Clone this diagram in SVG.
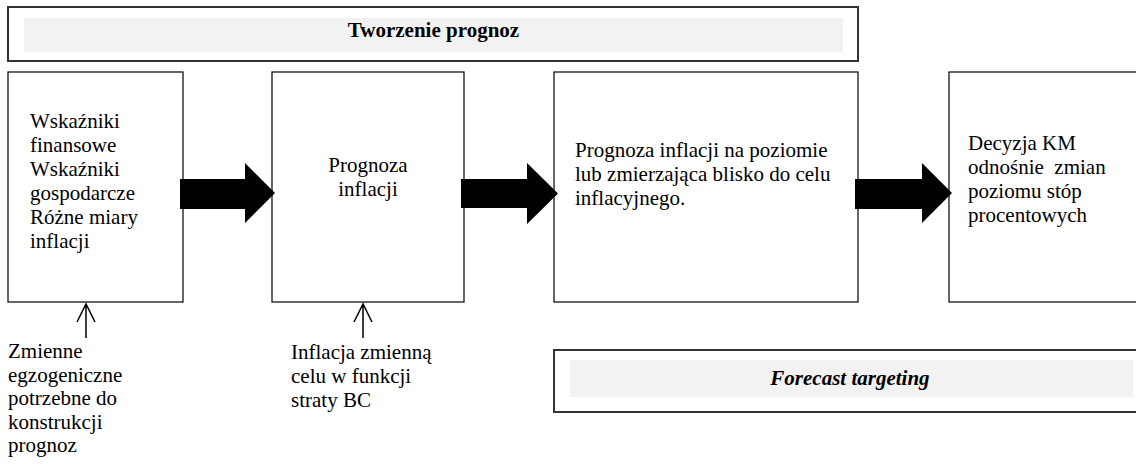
<svg xmlns="http://www.w3.org/2000/svg" width="1136" height="464" viewBox="0 0 1136 464">
  <style>
    .box { fill: #ffffff; stroke: #000000; stroke-width: 1.2; }
    .frame { fill: #ffffff; stroke: #333333; stroke-width: 2; }
    .band { fill: #f2f2f2; stroke: none; }
    .txt { font-size: 21px; fill: #000000; }
    .mid { text-anchor: middle; }
    .title { font-size: 21px; font-weight: bold; fill: #000000; text-anchor: middle; }
    .bigArrow { fill: #000000; stroke: none; }
    .thin { fill: none; stroke: #000000; stroke-width: 1.5; }
  </style>

  <g font-family="Liberation Serif, Tinos, Times New Roman, DejaVu Serif, serif">
  <!-- header banner -->
  <g id="header">
    <rect class="frame" x="8" y="7" width="850" height="54"/>
    <rect class="band" x="24" y="18" width="819" height="34"/>
    <text class="title" x="433.5" y="37">Tworzenie prognoz</text>
  </g>

  <!-- indicators -->
  <g id="inputs">
    <rect class="box" x="8" y="72" width="175" height="230"/>
    <text class="txt" x="30" y="128">Wskaźniki</text>
    <text class="txt" x="30" y="152">finansowe</text>
    <text class="txt" x="30" y="176">Wskaźniki</text>
    <text class="txt" x="30" y="200">gospodarcze</text>
    <text class="txt" x="30" y="224">Różne miary</text>
    <text class="txt" x="30" y="248">inflacji</text>
  </g>

  <!-- inflation forecast -->
  <g id="forecast">
    <rect class="box" x="272" y="72" width="192" height="230"/>
    <text class="txt mid" x="368" y="172">Prognoza</text>
    <text class="txt mid" x="368" y="196">inflacji</text>
  </g>

  <!-- forecast at target -->
  <g id="target">
    <rect class="box" x="554" y="72" width="304" height="230"/>
    <text class="txt" x="575" y="157">Prognoza inflacji na poziomie</text>
    <text class="txt" x="575" y="181">lub zmierzająca blisko do celu</text>
    <text class="txt" x="575" y="205">inflacyjnego.</text>
  </g>

  <!-- MPC decision -->
  <g id="decision">
    <rect class="box" x="949" y="72" width="220" height="230"/>
    <text class="txt" x="968" y="150">Decyzja KM</text>
    <text class="txt" x="968" y="174" xml:space="preserve">odnośnie  zmian</text>
    <text class="txt" x="968" y="198">poziomu stóp</text>
    <text class="txt" x="968" y="222">procentowych</text>
  </g>

  <!-- exogenous variables -->
  <g id="exogenous">
    <text class="txt" x="8" y="358">Zmienne</text>
    <text class="txt" x="8" y="381.5">egzogeniczne</text>
    <text class="txt" x="8" y="405">potrzebne do</text>
    <text class="txt" x="8" y="428.5">konstrukcji</text>
    <text class="txt" x="8" y="452">prognoz</text>
  </g>

  <!-- loss function note -->
  <g id="lossFunction">
    <text class="txt" x="291" y="359">Inflacja zmienną</text>
    <text class="txt" x="291" y="383">celu w funkcji</text>
    <text class="txt" x="291" y="407">straty BC</text>
  </g>

  <!-- footer banner -->
  <g id="footer">
    <rect class="frame" x="554" y="350" width="600" height="62"/>
    <rect class="band" x="570" y="360" width="563" height="37"/>
    <text class="title" x="850" y="385" font-style="italic">Forecast targeting</text>
  </g>
  </g>

  <!-- connectors -->
  <g id="connectors">
    <polygon class="bigArrow" points="180,179 245,179 245,163 275,193 245,223 245,209 180,209"/>
    <polygon class="bigArrow" points="461,179 527,179 527,163 558,193.5 527,224 527,208 461,208"/>
    <polygon class="bigArrow" points="855,179 922,179 922,163 952,193 922,223 922,209 855,209"/>
    <path class="thin" d="M86,338 V304 M77,322 L86,304 L95,322"/>
    <path class="thin" d="M363,338 V304 M354,322 L363,304 L372,322"/>
  </g>
</svg>
